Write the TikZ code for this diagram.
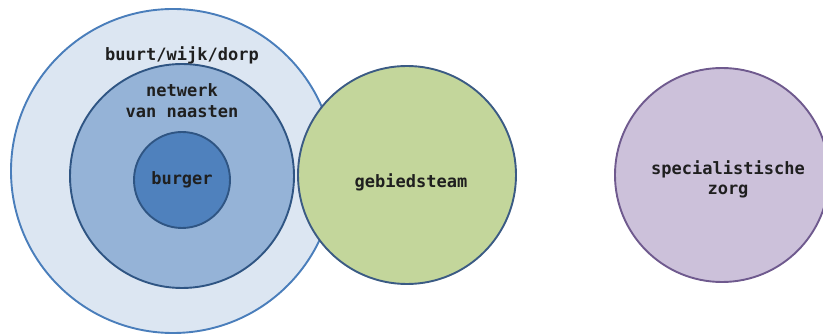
\documentclass[tikz,border=0pt]{standalone}
\usepackage{fontspec}
\setmonofont{DejaVu Sans Mono}
\definecolor{outerfill}{HTML}{DCE6F2}
\definecolor{outerline}{HTML}{4A7EBB}
\definecolor{midfill}{HTML}{95B3D7}
\definecolor{midline}{HTML}{2F5583}
\definecolor{innerfill}{HTML}{4F81BD}
\definecolor{innerline}{HTML}{2F5583}
\definecolor{greenfill}{HTML}{C3D69B}
\definecolor{greenline}{HTML}{3B5B84}
\definecolor{purplefill}{HTML}{CCC1DA}
\definecolor{purpleline}{HTML}{6F5A8E}
\begin{document}
\begin{tikzpicture}[x=1pt,y=-1pt,
  ring/.style={circle,inner sep=0pt,line width=1.9pt},
  lbl/.style={font=\ttfamily\bfseries\fontsize{17}{20}\selectfont,inner sep=0pt,anchor=base,text=black!88}]
\path[use as bounding box, fill=white] (0,0) rectangle (823,336);
\node[ring,draw=outerline,fill=outerfill,minimum size=324pt] (buurt) at (173,171) {};
\node[ring,draw=midline,fill=midfill,minimum size=224pt] (netwerk) at (182,176) {};
\node[ring,draw=innerline,fill=innerfill,minimum size=96pt] (burger) at (182,180) {};
\node[ring,draw=greenline,fill=greenfill,minimum size=218pt] (gebied) at (407,175) {};
\node[ring,draw=purpleline,fill=purplefill,minimum size=214pt] (spec) at (722,175) {};
\node[lbl] (tbuurt) at (182,61) {buurt/wijk/dorp};
\node[lbl] (tnet1) at (182,97) {netwerk};
\node[lbl] (tnet2) at (182,118) {van naasten};
\node[lbl] (tburger) at (182,185) {burger};
\node[lbl] (tgebied) at (411,188) {gebiedsteam};
\node[lbl] (tspec1) at (728,175) {specialistische};
\node[lbl] (tspec2) at (728,195) {zorg};
\end{tikzpicture}
\end{document}
